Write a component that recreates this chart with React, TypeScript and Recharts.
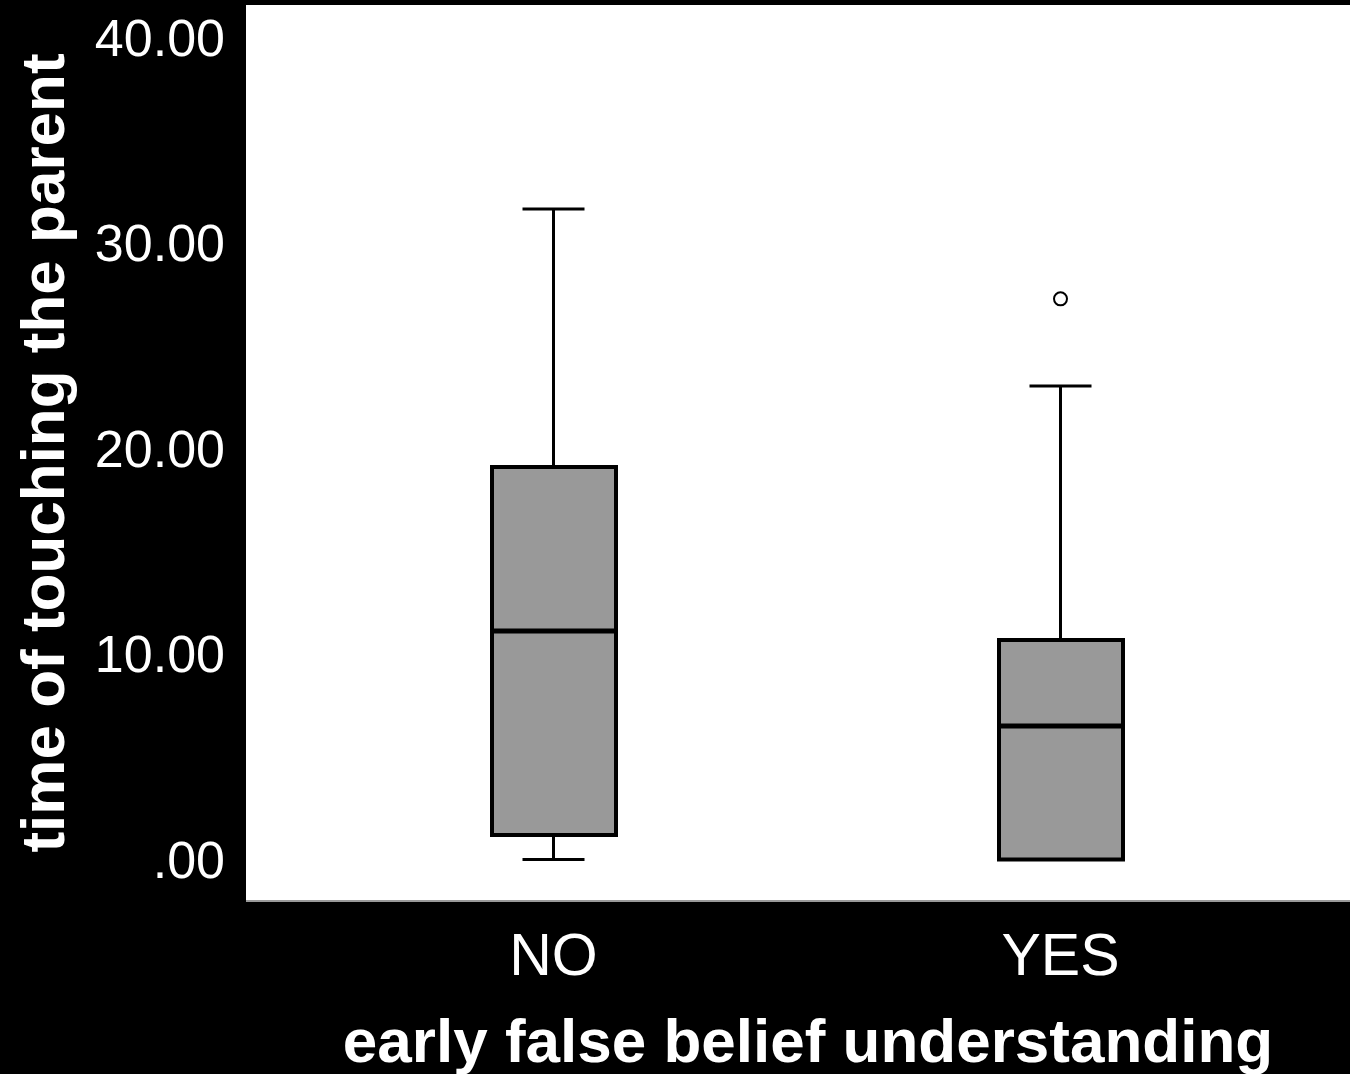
import React from 'react';
import {
  ComposedChart, Bar, Scatter, XAxis, YAxis, CartesianGrid, ReferenceLine, Label
} from 'recharts';

const categories = ['NO', 'YES'];
const whiskerLow = [0, 0];
const q1 = [1.19, 0];
const median = [11.12, 6.5];
const q3 = [19.1, 10.68];
const whiskerHigh = [31.65, 23.04];
const outliers: (number | null)[] = [null, 27.28];
const yTicks = [0, 10, 20, 30, 40];

const rows = categories.map((cat, i) => ({
  cat,
  box: [q1[i], q3[i]],
  low: whiskerLow[i],
  median: median[i],
  high: whiskerHigh[i],
  outlier: outliers[i],
}));

const FONT = '"Liberation Sans", Arial, sans-serif';
const BOX_W = 124;
const CAP_W = 62;

const fmt = (v: number) => (v === 0 ? '.00' : v.toFixed(2));

const Cap = (p: any) => (
  <line x1={p.cx - CAP_W / 2} x2={p.cx + CAP_W / 2} y1={p.cy} y2={p.cy} stroke="#000" strokeWidth={3} />
);

const MedianLine = (p: any) => (
  <line x1={p.cx - BOX_W / 2} x2={p.cx + BOX_W / 2} y1={p.cy} y2={p.cy} stroke="#000" strokeWidth={5} />
);

const Outlier = (p: any) => {
  if (p.payload == null || p.payload.outlier == null) return null;
  return <circle cx={p.cx} cy={p.cy} r={6.5} fill="#fff" stroke="#000" strokeWidth={2} />;
};

export default function App() {
  return (
    <div style={{ position: 'absolute', left: 0, top: 0, width: 1350, height: 1074, background: '#000' }}>
      <ComposedChart
        width={1350}
        height={1074}
        data={rows}
        margin={{ top: 5, right: 0, left: 0, bottom: 0 }}
        barSize={BOX_W}
      >
        <CartesianGrid horizontal={false} vertical={false} fill="#fff" />
        <XAxis
          dataKey="cat"
          height={173}
          padding={{ left: 54, right: 36 }}
          axisLine={{ stroke: '#9a9a9a', strokeWidth: 2 }}
          tickLine={false}
          tickSize={6}
          tickMargin={26}
          tick={{ fill: '#fff', fontSize: 59, fontFamily: FONT }}
        >
          <Label
            value="early false belief understanding"
            position="insideBottom"
            offset={12}
            dx={10}
            fill="#fff"
            fontSize={62}
            fontWeight="bold"
            fontFamily={FONT}
          />
        </XAxis>
        <YAxis
          width={246}
          domain={[-2.02, 41.58]}
          allowDataOverflow
          ticks={yTicks}
          tickFormatter={fmt}
          axisLine={false}
          tickLine={false}
          tickSize={6}
          tickMargin={15}
          tick={{ fill: '#fff', fontSize: 52, fontFamily: FONT }}
        >
          <Label
            value="time of touching the parent"
            angle={-90}
            position="insideLeft"
            offset={29}
            dx={13}
            fill="#fff"
            fontSize={62}
            fontWeight="bold"
            fontFamily={FONT}
            style={{ textAnchor: 'middle' }}
          />
        </YAxis>
        {rows.map((r) => (
          <ReferenceLine
            key={`hi-${r.cat}`}
            segment={[{ x: r.cat, y: r.box[1] }, { x: r.cat, y: r.high }]}
            stroke="#000"
            strokeWidth={3}
          />
        ))}
        {rows.map((r) => (
          <ReferenceLine
            key={`lo-${r.cat}`}
            segment={[{ x: r.cat, y: r.low }, { x: r.cat, y: r.box[0] }]}
            stroke="#000"
            strokeWidth={3}
          />
        ))}
        <Bar dataKey="box" fill="#999999" stroke="#000" strokeWidth={4} isAnimationActive={false} />
        <Scatter dataKey="high" shape={Cap} isAnimationActive={false} />
        <Scatter dataKey="low" shape={Cap} isAnimationActive={false} />
        <Scatter dataKey="median" shape={MedianLine} isAnimationActive={false} />
        <Scatter dataKey="outlier" shape={Outlier} isAnimationActive={false} />
      </ComposedChart>
    </div>
  );
}
